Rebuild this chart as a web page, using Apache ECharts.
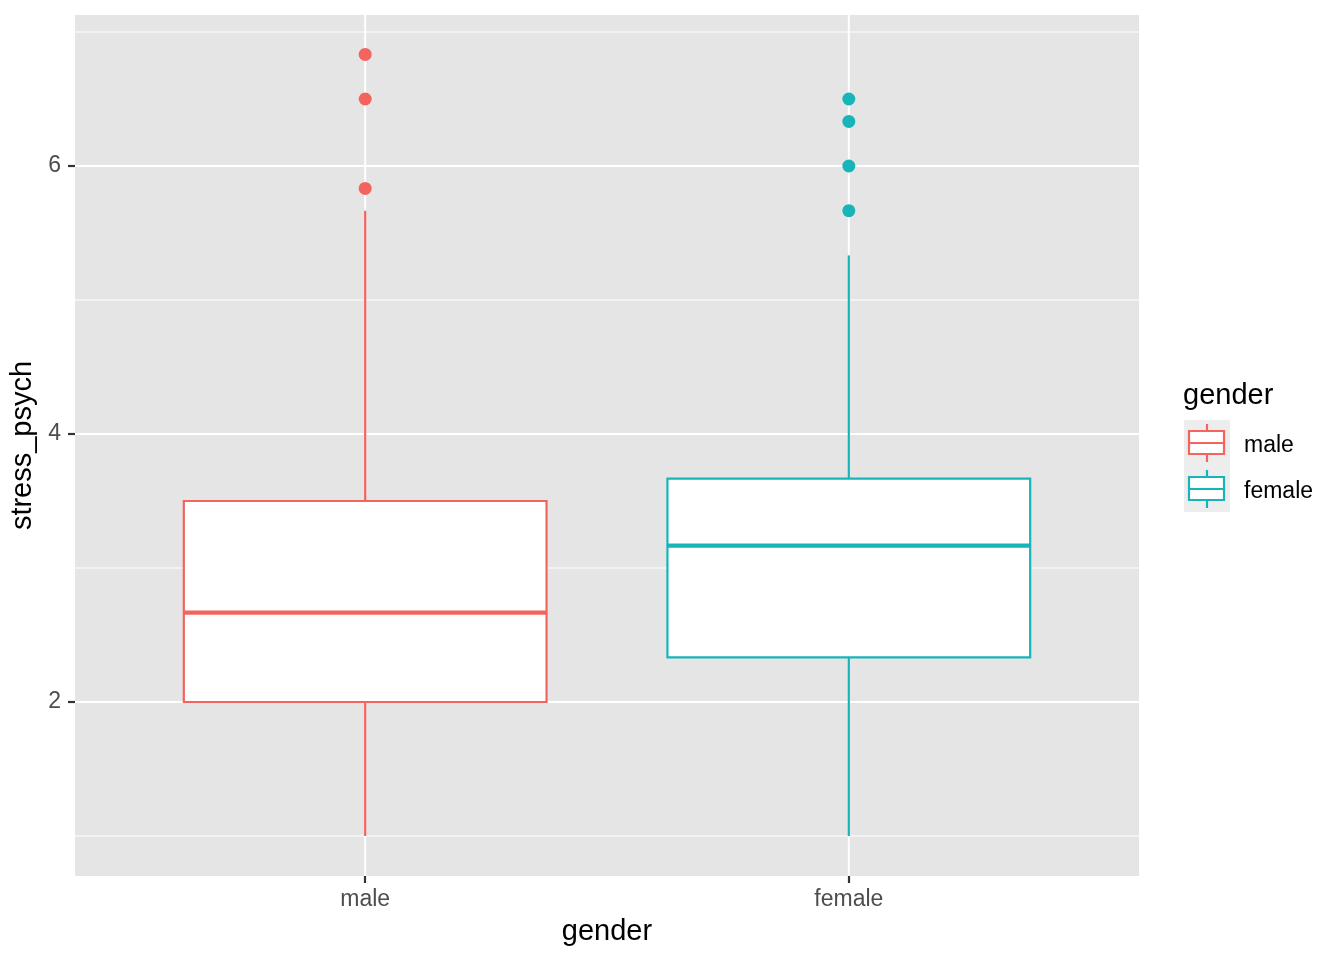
<!DOCTYPE html>
<html>
<head>
<meta charset="utf-8">
<script src="https://cdn.jsdelivr.net/npm/echarts@6/dist/echarts.min.js"></script>
<style>
html,body{margin:0;padding:0;background:#fff;}
#chart{width:1344px;height:960px;}
</style>
</head>
<body>
<div id="chart"></div>
<script>
// ---- data ----
const categories = ['male', 'female'];
const categoryPos = [1, 2];
const lowerWhisker = [1, 1];
const q1 = [2, 2.333];
const median = [2.667, 3.167];
const q3 = [3.5, 3.667];
const upperWhisker = [5.667, 5.333];
const outliersMale = [5.833, 6.5, 6.833];
const outliersFemale = [5.667, 6.0, 6.333, 6.5];
const yMajorTicks = [2, 4, 6];
const yMinorGrid = [1, 3, 5, 7];
const colors = ['#F4645F', '#17B5B9'];

const FONT = 'Liberation Sans, Arial, Helvetica, sans-serif';
const TITLE_SIZE = 29;
const TICK_SIZE = 23;
const chart = echarts.init(document.getElementById('chart'), null, {renderer: 'canvas'});

const boxData = categories.map((c, i) => [categoryPos[i], lowerWhisker[i], q1[i], median[i], q3[i], upperWhisker[i], i]);
const gridData = [];
yMajorTicks.forEach(v => gridData.push(['y', v, 2]));
yMinorGrid.forEach(v => gridData.push(['y', v, 1]));
categoryPos.forEach(v => gridData.push(['x', v, 2]));

const halfWidth = 0.375;

// legend graphics
const legendX = 1184, legendTop = 420, keySize = 46;
const legendGraphics = [
  {type: 'text', left: 1183, top: 381, style: {text: 'gender', font: TITLE_SIZE + 'px ' + FONT, fill: '#000'}},
  {type: 'rect', shape: {x: legendX, y: legendTop, width: keySize, height: keySize * categories.length}, style: {fill: '#EDEDED'}}
];
categories.forEach((c, i) => {
  const top = legendTop + i * keySize;
  const cx = legendX + keySize / 2;
  legendGraphics.push(
    {type: 'line', shape: {x1: cx, y1: top + 4, x2: cx, y2: top + 42}, style: {stroke: colors[i], lineWidth: 2.2}},
    {type: 'rect', shape: {x: legendX + 5, y: top + 11, width: 35, height: 23}, style: {fill: '#fff', stroke: colors[i], lineWidth: 2.2}},
    {type: 'line', shape: {x1: legendX + 5, y1: top + 23, x2: legendX + 40, y2: top + 23}, style: {stroke: colors[i], lineWidth: 2.2}},
    {type: 'text', left: 1244, top: top + 14, style: {text: c, font: TICK_SIZE + 'px ' + FONT, fill: '#000'}}
  );
});

const option = {
  backgroundColor: '#fff',
  animation: false,
  grid: {left: 75, right: 205, top: 15, bottom: 84, show: true, backgroundColor: '#E5E5E5', borderWidth: 0, containLabel: false},
  xAxis: {
    type: 'value', min: 0.4, max: 2.6,
    axisLine: {show: false},
    splitLine: {show: false},
    axisTick: {show: true, length: 7, lineStyle: {color: '#333', width: 2.2}, customValues: categoryPos},
    axisLabel: {customValues: categoryPos, margin: 12, color: '#4D4D4D', fontSize: TICK_SIZE, fontFamily: FONT,
      formatter: v => { const k = categoryPos.indexOf(Math.round(v)); return k >= 0 ? categories[k] : ''; }},
    name: 'gender', nameLocation: 'middle', nameGap: 41,
    nameTextStyle: {color: '#000', fontSize: TITLE_SIZE, fontFamily: FONT}
  },
  yAxis: {
    type: 'value', min: 0.7015, max: 7.127,
    axisLine: {show: false},
    splitLine: {show: false},
    axisTick: {show: true, length: 7, lineStyle: {color: '#333', width: 2.2}, customValues: yMajorTicks},
    axisLabel: {customValues: yMajorTicks, margin: 14, color: '#4D4D4D', fontSize: TICK_SIZE, fontFamily: FONT},
    name: 'stress_psych', nameLocation: 'middle', nameGap: 34, nameRotate: 90,
    nameTextStyle: {color: '#000', fontSize: TITLE_SIZE, fontFamily: FONT}
  },
  graphic: legendGraphics,
  series: [
    {
      type: 'custom', z: 1, silent: true, clip: true,
      data: gridData,
      renderItem: function (params, api) {
        const cs = params.coordSys;
        const kind = gridData[params.dataIndex][0];
        const v = gridData[params.dataIndex][1];
        const w = gridData[params.dataIndex][2];
        if (kind === 'y') {
          const p = api.coord([1, v]);
          return {type: 'line', shape: {x1: cs.x, y1: p[1], x2: cs.x + cs.width, y2: p[1]}, style: {stroke: '#fff', lineWidth: w}};
        } else {
          const p = api.coord([v, 1]);
          return {type: 'line', shape: {x1: p[0], y1: cs.y, x2: p[0], y2: cs.y + cs.height}, style: {stroke: '#fff', lineWidth: w}};
        }
      }
    },
    {
      type: 'custom', z: 2, silent: true,
      data: boxData,
      renderItem: function (params, api) {
        const x = api.value(0);
        const idx = api.value(6);
        const col = colors[idx];
        const pLow = api.coord([x, api.value(1)]);
        const pQ1 = api.coord([x, api.value(2)]);
        const pMed = api.coord([x, api.value(3)]);
        const pQ3 = api.coord([x, api.value(4)]);
        const pHigh = api.coord([x, api.value(5)]);
        const left = api.coord([x - halfWidth, 0])[0];
        const right = api.coord([x + halfWidth, 0])[0];
        return {
          type: 'group',
          children: [
            {type: 'line', shape: {x1: pLow[0], y1: pLow[1], x2: pQ1[0], y2: pQ1[1]}, style: {stroke: col, lineWidth: 2.2}},
            {type: 'line', shape: {x1: pQ3[0], y1: pQ3[1], x2: pHigh[0], y2: pHigh[1]}, style: {stroke: col, lineWidth: 2.2}},
            {type: 'rect', shape: {x: left, y: pQ3[1], width: right - left, height: pQ1[1] - pQ3[1]}, style: {fill: '#fff', stroke: col, lineWidth: 2.2}},
            {type: 'line', shape: {x1: left, y1: pMed[1], x2: right, y2: pMed[1]}, style: {stroke: col, lineWidth: 4.4}}
          ]
        };
      }
    },
    {
      type: 'scatter', z: 3, symbol: 'circle', symbolSize: 13, silent: true,
      itemStyle: {color: colors[0], opacity: 1},
      data: outliersMale.map(v => [categoryPos[0], v])
    },
    {
      type: 'scatter', z: 3, symbol: 'circle', symbolSize: 13, silent: true,
      itemStyle: {color: colors[1], opacity: 1},
      data: outliersFemale.map(v => [categoryPos[1], v])
    }
  ]
};
chart.setOption(option);
</script>
</body>
</html>
